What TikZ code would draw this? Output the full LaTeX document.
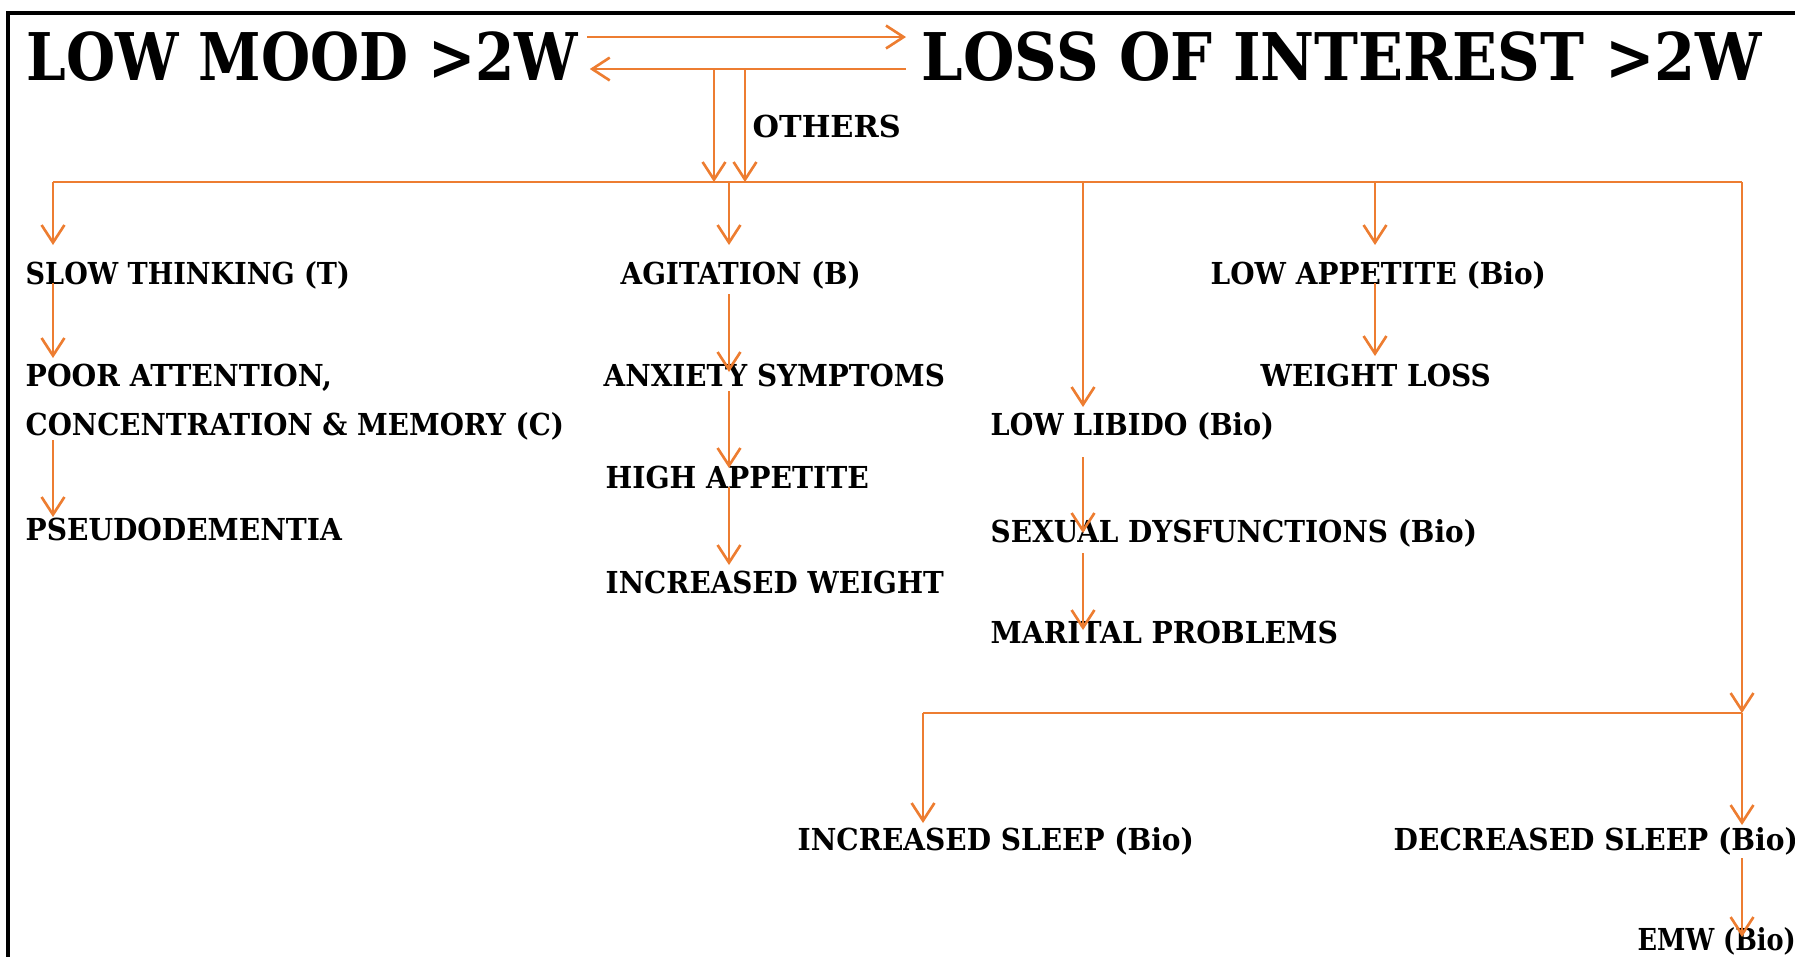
\documentclass[tikz,border=0pt]{standalone}
\usepackage{fontspec}
\setmainfont{DejaVu Serif}
\usepackage{graphicx}
\usetikzlibrary{calc, arrows.meta, positioning}

\definecolor{flowline}{HTML}{ED7D31}
\newcommand{\fitw}[2]{\resizebox{#1mm}{\height}{#2}}

\tikzset{
    wire/.style={draw=flowline, line width=0.75pt},
    arr/.style={wire, -{Straight Barb[length=5pt, width=6.5pt, line width=0.75pt]}},
    ttl/.style={anchor=base west, inner sep=0pt, font=\fontsize{18.7}{22}\selectfont\bfseries},
    lbl/.style={anchor=base west, inner sep=0pt, font=\fontsize{8.6}{10}\selectfont\bfseries},
}

\begin{document}
\begin{tikzpicture}[x=0.01cm, y=-0.01cm]
    \useasboundingbox (0,0) rectangle (1795,956);
    \draw[line width=0.9pt] (8,960) -- (8,13) -- (1800,13);

    % headings
    \node[ttl] (mood) at (26,80) {\fitw{55.1}{LOW MOOD >2W}};
    \node[ttl] (loss) at (921,80) {\fitw{84.0}{LOSS OF INTEREST >2W}};
    \node[lbl] (others) at (752,137) {\fitw{14.8}{OTHERS}};

    \coordinate (hiY) at (0,37);
    \coordinate (loY) at (0,69);
    \coordinate (dropA) at (714,69);
    \coordinate (dropB) at (745,69);

    % columns on the main bus
    \coordinate (c1) at (53,182);
    \coordinate (c2) at (729,182);
    \coordinate (c3) at (1083,182);
    \coordinate (c4) at (1375,182);
    \coordinate (c5) at (1742,182);
    % sleep bus
    \coordinate (s1) at (923,713);
    \coordinate (s2) at (1742,713);

    % column 1
    \node[lbl] (slow) at (25,284) {\fitw{32.4}{SLOW THINKING (T)}};
    \node[lbl] (poor) at (25,386) {\fitw{30.6}{POOR ATTENTION,}};
    \node[lbl] (conc) at (25,435) {\fitw{53.8}{CONCENTRATION \& MEMORY (C)}};
    \node[lbl] (pseudo) at (25,540) {\fitw{31.6}{PSEUDODEMENTIA}};

    % column 2
    \node[lbl] (agit) at (620,284) {\fitw{24.0}{AGITATION (B)}};
    \node[lbl] (anx) at (603,386) {\fitw{34.1}{ANXIETY SYMPTOMS}};
    \node[lbl] (high) at (605,488) {\fitw{26.3}{HIGH APPETITE}};
    \node[lbl] (incw) at (605,593) {\fitw{33.8}{INCREASED WEIGHT}};

    % column 3
    \node[lbl] (libido) at (990,435) {\fitw{28.3}{LOW LIBIDO (Bio)}};
    \node[lbl] (sexual) at (990,542) {\fitw{48.6}{SEXUAL DYSFUNCTIONS (Bio)}};
    \node[lbl] (marital) at (990,643) {\fitw{34.7}{MARITAL PROBLEMS}};

    % column 4
    \node[lbl] (lowapp) at (1210,284) {\fitw{33.5}{LOW APPETITE (Bio)}};
    \node[lbl] (wloss) at (1260,386) {\fitw{23.0}{WEIGHT LOSS}};

    % sleep
    \node[lbl] (incsleep) at (797,850) {\fitw{39.6}{INCREASED SLEEP (Bio)}};
    \node[lbl] (decsleep) at (1393,850) {\fitw{40.4}{DECREASED SLEEP (Bio)}};
    \node[lbl] (emw) at (1637,950) {\fitw{15.8}{EMW (Bio)}};

    % between the headings
    \draw[arr] ($(mood.east |- hiY)+(8,0)$) -- ($(loss.west |- hiY)+(-15,0)$);
    \draw[arr] ($(loss.west |- loY)+(-15,0)$) -- ($(mood.east |- loY)+(11,0)$);
    \draw[arr] (dropA) -- (dropA |- c1);
    \draw[arr] (dropB) -- (dropB |- c1);

    % main bus
    \draw[wire] (c1) -- (c5);
    \draw[arr] (c1) -- ($(c1 |- slow.base)+(0,-39)$);
    \draw[arr] (c2) -- ($(c2 |- agit.base)+(0,-39)$);
    \draw[arr] (c3) -- ($(c3 |- libido.base)+(0,-28)$);
    \draw[arr] (c4) -- ($(c4 |- lowapp.base)+(0,-39)$);
    \draw[arr] (c5) -- (s2);

    \draw[arr] ($(c1 |- slow.base)+(0,-1)$) -- ($(c1 |- poor.base)+(0,-28)$);
    \draw[arr] ($(c1 |- conc.base)+(0,5)$) -- ($(c1 |- pseudo.base)+(0,-23)$);

    \draw[arr] ($(c2 |- agit.base)+(0,10)$) -- ($(c2 |- anx.base)+(0,-14)$);
    \draw[arr] ($(c2 |- anx.base)+(0,5)$) -- ($(c2 |- high.base)+(0,-20)$);
    \draw[arr] ($(c2 |- high.base)+(0,-1)$) -- ($(c2 |- incw.base)+(0,-28)$);

    \draw[arr] ($(c3 |- libido.base)+(0,22)$) -- ($(c3 |- sexual.base)+(0,-9)$);
    \draw[arr] ($(c3 |- sexual.base)+(0,11)$) -- ($(c3 |- marital.base)+(0,-13)$);

    \draw[arr] ($(c4 |- lowapp.base)+(0,-1)$) -- ($(c4 |- wloss.base)+(0,-30)$);

    % sleep bus
    \draw[wire] (s1) -- (s2);
    \draw[arr] (s1) -- ($(s1 |- incsleep.base)+(0,-27)$);
    \draw[arr] (s2) -- ($(s2 |- decsleep.base)+(0,-25)$);
    \draw[arr] ($(s2 |- decsleep.base)+(0,8)$) -- ($(s2 |- emw.base)+(0,-13)$);

\end{tikzpicture}
\end{document}
